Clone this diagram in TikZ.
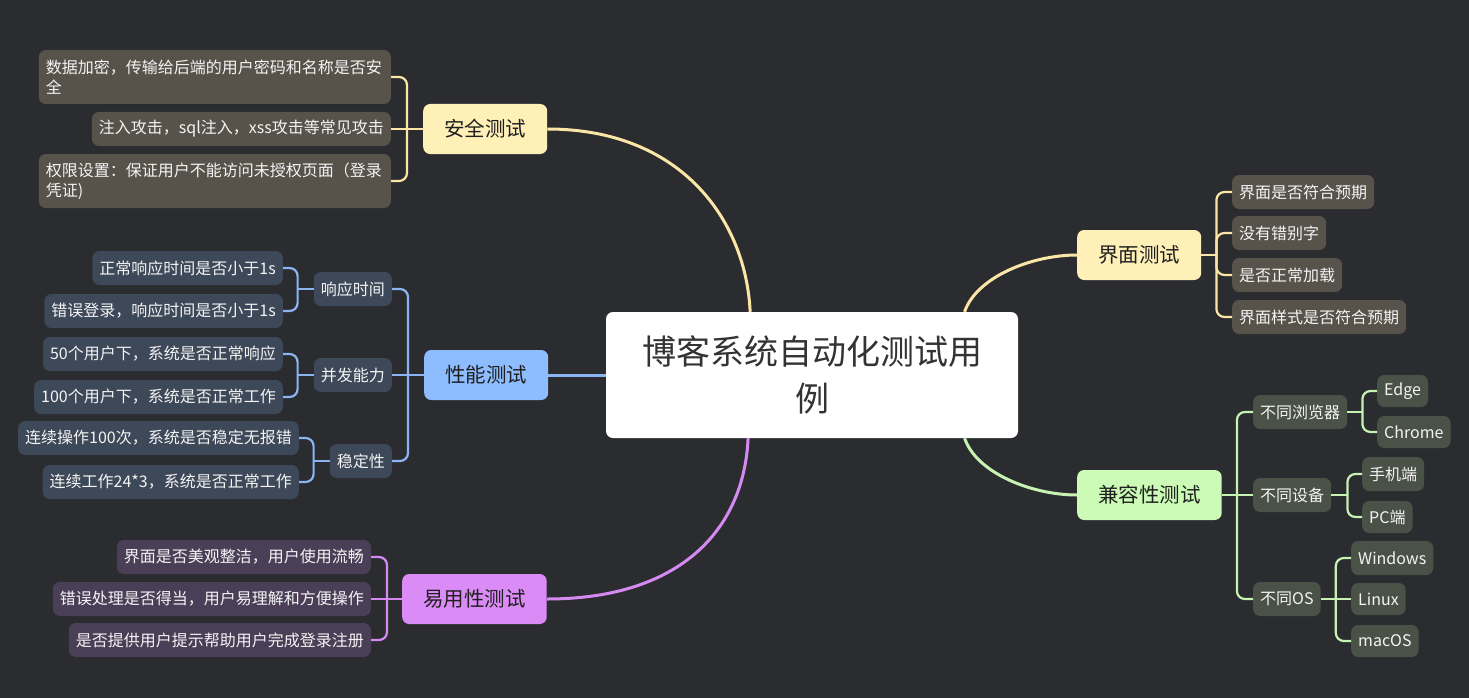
\documentclass[tikz,border=0pt]{standalone}
\usepackage{fontspec}
\setmainfont{Noto Sans CJK SC}
\usetikzlibrary{calc}
\definecolor{bg}{HTML}{2B2C30}
\definecolor{yfill}{HTML}{FFF0B8}
\definecolor{yline}{HTML}{FBE6A6}
\definecolor{ychild}{HTML}{57534B}
\definecolor{bfill}{HTML}{8DBDFF}
\definecolor{bline}{HTML}{8AB5F2}
\definecolor{bchild}{HTML}{3D4858}
\definecolor{pfill}{HTML}{DB8BF6}
\definecolor{pline}{HTML}{D48AF0}
\definecolor{pchild}{HTML}{4B3F57}
\definecolor{gfill}{HTML}{CBFBB6}
\definecolor{gline}{HTML}{C6F2B2}
\definecolor{gchild}{HTML}{4A5147}
\definecolor{ctext}{HTML}{F4F4F4}
\tikzset{
  rootbox/.style={fill=white, rounded corners=7pt, text=black!80, minimum width=412pt, minimum height=126pt, text width=350pt, align=center, font=\fontsize{34}{47}\selectfont},
  mainbox/.style={rounded corners=7pt, inner xsep=21pt, minimum height=50pt, text=black!88, font=\fontsize{20.5}{24}\selectfont},
  childbox/.style={rounded corners=7pt, inner xsep=7pt, minimum height=34pt, text=ctext, font=\fontsize{16}{20}\selectfont},
  smallbox/.style={childbox, minimum height=32pt},
  twoline/.style={childbox, text width=338pt, align=left, minimum height=54pt},
  branch/.style={line width=2.2pt, rounded corners=8pt},
  trunk/.style={line width=3pt},
}
\begin{document}
\begin{tikzpicture}[x=1pt,y=-1pt]
\fill[bg] (0,0) rectangle (1469,698);
\useasboundingbox (0,0) rectangle (1469,698);

% root
\node[rootbox] (root) at (812,375) {博客系统自动化测试用\\例};

% main topics
\node[mainbox, fill=yfill, anchor=west] (sec) at (423,129) {安全测试};
\node[mainbox, fill=bfill, anchor=west] (perf) at (424,375) {性能测试};
\node[mainbox, fill=pfill, anchor=west] (use) at (402,599) {易用性测试};
\node[mainbox, fill=yfill, anchor=west] (ui) at (1077,255) {界面测试};
\node[mainbox, fill=gfill, anchor=west] (comp) at (1077,495) {兼容性测试};

% trunk connectors
\draw[trunk, yline] (sec.east) .. controls +(135,0) and +(-4,-90) .. ($(root.north west)!0.35!(root.north east)$);
\draw[trunk, bline] (perf.east) -- (root.west);
\draw[trunk, pline] (use.east) .. controls +(135,0) and +(-4,90) .. ($(root.south west)!0.345!(root.south east)$);
\draw[trunk, yline] ($(root.north west)!0.87!(root.north east)$) .. controls +(12,-35) and +(-45,0) .. (ui.west);
\draw[trunk, gline] ($(root.south west)!0.87!(root.south east)$) .. controls +(12,35) and +(-45,0) .. (comp.west);

% security children
\node[twoline, fill=ychild, anchor=east] (s1) at (391,77) {数据加密，传输给后端的用户密码和名称是否安\\全};
\node[childbox, fill=ychild, anchor=east] (s2) at (391,129) {注入攻击，sql注入，xss攻击等常见攻击};
\node[twoline, fill=ychild, anchor=east] (s3) at (391,181) {权限设置：保证用户不能访问未授权页面（登录\\凭证)};
\coordinate (sj) at ($(sec.west)+(-16,0)$);
\draw[branch, yline] (s1.east) -| (sj);
\draw[branch, yline] (s3.east) -| (sj);
\draw[branch, yline] (s2.east) -- (sec.west);

% performance children
\node[childbox, fill=bchild, anchor=east] (p1) at (392,289) {响应时间};
\node[childbox, fill=bchild, anchor=east] (p2) at (392,375) {并发能力};
\node[childbox, fill=bchild, anchor=east] (p3) at (392,461) {稳定性};
\coordinate (pj) at ($(perf.west)+(-16,0)$);
\draw[branch, bline] (p1.east) -| (pj);
\draw[branch, bline] (p3.east) -| (pj);
\draw[branch, bline] (p2.east) -- (perf.west);

\node[childbox, fill=bchild, anchor=east] (p11) at (283,268) {正常响应时间是否小于1s};
\node[childbox, fill=bchild, anchor=east] (p12) at (283,311) {错误登录，响应时间是否小于1s};
\node[childbox, fill=bchild, anchor=east] (p21) at (283,354) {50个用户下，系统是否正常响应};
\node[childbox, fill=bchild, anchor=east] (p22) at (283,397) {100个用户下，系统是否正常工作};
\node[childbox, fill=bchild, anchor=east] (p31) at (299,438) {连续操作100次，系统是否稳定无报错};
\node[childbox, fill=bchild, anchor=east] (p32) at (299,482) {连续工作24*3，系统是否正常工作};
\coordinate (p1j) at ($(p1.west)+(-16,0)$);
\coordinate (p2j) at ($(p2.west)+(-16,0)$);
\coordinate (p3j) at ($(p3.west)+(-16,0)$);
\draw[branch, bline] (p11.east) -| (p1j);
\draw[branch, bline] (p12.east) -| (p1j);
\draw[branch, bline] (p1.west) -- (p1j);
\draw[branch, bline] (p21.east) -| (p2j);
\draw[branch, bline] (p22.east) -| (p2j);
\draw[branch, bline] (p2.west) -- (p2j);
\draw[branch, bline] (p31.east) -| (p3j);
\draw[branch, bline] (p32.east) -| (p3j);
\draw[branch, bline] (p3.west) -- (p3j);

% usability children
\node[childbox, fill=pchild, anchor=east] (u1) at (371,557) {界面是否美观整洁，用户使用流畅};
\node[childbox, fill=pchild, anchor=east] (u2) at (371,599) {错误处理是否得当，用户易理解和方便操作};
\node[childbox, fill=pchild, anchor=east] (u3) at (371,640) {是否提供用户提示帮助用户完成登录注册};
\coordinate (uj) at ($(use.west)+(-15,0)$);
\draw[branch, pline] (u1.east) -| (uj);
\draw[branch, pline] (u3.east) -| (uj);
\draw[branch, pline] (u2.east) -- (use.west);

% UI children
\node[childbox, fill=ychild, anchor=west] (i1) at (1232,192) {界面是否符合预期};
\node[childbox, fill=ychild, anchor=west] (i2) at (1232,233) {没有错别字};
\node[childbox, fill=ychild, anchor=west] (i3) at (1232,275) {是否正常加载};
\node[childbox, fill=ychild, anchor=west] (i4) at (1232,317) {界面样式是否符合预期};
\coordinate (ij) at ($(ui.east)+(15,0)$);
\draw[branch, yline] (i1.west) -| (ij);
\draw[branch, yline] (i2.west) -| (ij);
\draw[branch, yline] (i3.west) -| (ij);
\draw[branch, yline] (i4.west) -| (ij);
\draw[branch, yline] (ui.east) -- (ij);

% compatibility children
\node[childbox, fill=gchild, anchor=west] (c1) at (1253,412) {不同浏览器};
\node[childbox, fill=gchild, anchor=west] (c2) at (1253,495) {不同设备};
\node[childbox, fill=gchild, anchor=west] (c3) at (1253,599) {不同OS};
\coordinate (cj) at ($(comp.east)+(15,0)$);
\draw[branch, gline] (c1.west) -| (cj);
\draw[branch, gline] (c3.west) -| (cj);
\draw[branch, gline] (comp.east) -- (c2.west);

\node[smallbox, fill=gchild, anchor=west] (c11) at (1377,391) {Edge};
\node[smallbox, fill=gchild, anchor=west] (c12) at (1377,432) {Chrome};
\node[childbox, fill=gchild, anchor=west] (c21) at (1362,474) {手机端};
\node[smallbox, fill=gchild, anchor=west] (c22) at (1362,517) {PC端};
\node[childbox, fill=gchild, anchor=west] (c31) at (1351,558) {Windows};
\node[smallbox, fill=gchild, anchor=west] (c32) at (1351,599) {Linux};
\node[smallbox, fill=gchild, anchor=west] (c33) at (1351,641) {macOS};
\coordinate (c1j) at ($(c1.east)+(15,0)$);
\coordinate (c2j) at ($(c2.east)+(16,0)$);
\coordinate (c3j) at ($(c3.east)+(15,0)$);
\draw[branch, gline] (c11.west) -| (c1j);
\draw[branch, gline] (c12.west) -| (c1j);
\draw[branch, gline] (c1.east) -- (c1j);
\draw[branch, gline] (c21.west) -| (c2j);
\draw[branch, gline] (c22.west) -| (c2j);
\draw[branch, gline] (c2.east) -- (c2j);
\draw[branch, gline] (c31.west) -| (c3j);
\draw[branch, gline] (c33.west) -| (c3j);
\draw[branch, gline] (c3.east) -- (c32.west);
\end{tikzpicture}
\end{document}
